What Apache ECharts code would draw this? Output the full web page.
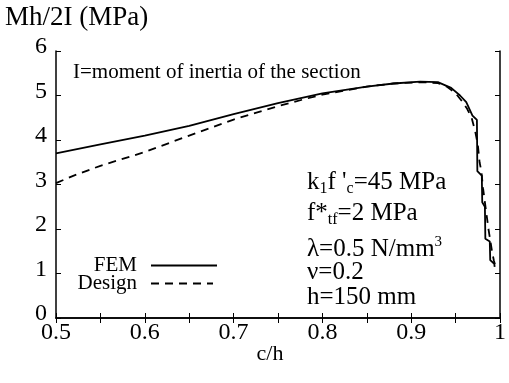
<!DOCTYPE html>
<html>
<head>
<meta charset="utf-8">
<script src="https://cdn.jsdelivr.net/npm/echarts@6/dist/echarts.min.js"></script>
<style>
  html, body { margin: 0; padding: 0; background: #fff; }
  #chart { width: 509px; height: 383px; }
</style>
</head>
<body>
<div id="chart"></div>
<script>
// Moment ratio Mh/2I versus relative crack depth c/h
const femC = [0.5, 0.55, 0.6, 0.65, 0.7, 0.75, 0.8, 0.85, 0.88, 0.91, 0.93, 0.945, 0.955, 0.962, 0.969, 0.974, 0.9745, 0.9795, 0.98, 0.983, 0.9835, 0.9885, 0.989, 0.9935, 0.994];
const femM = [3.70, 3.90, 4.10, 4.32, 4.58, 4.83, 5.05, 5.20, 5.27, 5.31, 5.30, 5.17, 5.00, 4.85, 4.55, 4.45, 3.30, 3.20, 2.60, 2.50, 1.78, 1.72, 1.30, 1.22, 1.15];

const designC = [0.5, 0.52, 0.55, 0.6, 0.65, 0.7, 0.75, 0.78, 0.8, 0.85, 0.88, 0.91, 0.93, 0.94, 0.95, 0.958, 0.963, 0.968, 0.972, 0.975, 0.977, 0.979, 0.981, 0.983, 0.985, 0.987, 0.989, 0.991, 0.993, 0.995];
const designM = [3.03, 3.20, 3.42, 3.73, 4.10, 4.46, 4.76, 4.92, 5.02, 5.20, 5.27, 5.30, 5.28, 5.20, 5.05, 4.85, 4.70, 4.50, 4.20, 3.90, 3.50, 3.30, 2.90, 2.60, 2.30, 2.00, 1.75, 1.50, 1.30, 1.15];

const xTicks = { min: 0.5, max: 1, step: 0.05 };
const yTicks = { min: 0, max: 6, step: 1 };

// Material and geometry parameters listed inside the plot (rich-text lines)
const paramLines = [
  '{m|k}{s|1}{m|f \'}{s|c}{m|=45 MPa}',
  '{m|f*}{s|tf}{m|=2 MPa}',
  '{m|λ=0.5 N/mm}{u|3}',
  '{m|ν=0.2}',
  '{m|h=150 mm}'
];

const serif = '"Liberation Serif", "DejaVu Serif", serif';

function pairs(xs, ys) { return xs.map((x, i) => [x, ys[i]]); }

function xLabel(v) {
  const t = v * 10;
  if (Math.abs(t - Math.round(t)) > 1e-6) return '';
  return Math.abs(v - 1) < 1e-9 ? '1' : v.toFixed(1);
}

const axisLine = { show: true, lineStyle: { color: '#000', width: 1.5 } };
const tickIn = { show: true, inside: true, length: 5, lineStyle: { color: '#000', width: 1 } };

const chart = echarts.init(document.getElementById('chart'), null, { renderer: 'canvas' });

const legendBase = {
  orient: 'vertical', align: 'right', itemHeight: 10, itemGap: 0, padding: 0,
  itemStyle: { opacity: 0 },
  textStyle: { fontFamily: serif, fontSize: 21, color: '#000', padding: [0, 9, 0, 0] }
};

const richStyles = {
  m: { fontFamily: serif, fontSize: 25, lineHeight: 29, verticalAlign: 'middle', fill: '#000' },
  s: { fontFamily: serif, fontSize: 16, lineHeight: 14, verticalAlign: 'bottom', fill: '#000' },
  u: { fontFamily: serif, fontSize: 15, lineHeight: 16, verticalAlign: 'top', fill: '#000' }
};
const paramTops = [170, 201, 235, 260, 285];

chart.setOption({
  backgroundColor: '#fff',
  animation: false,
  grid: { left: 56, right: 8, top: 51, bottom: 65, containLabel: false },
  xAxis: [
    {
      type: 'value', min: xTicks.min, max: xTicks.max, interval: xTicks.step,
      position: 'bottom',
      name: 'c/h', nameLocation: 'middle', nameGap: 25, nameMoveOverlap: false,
      nameTextStyle: { fontFamily: serif, fontSize: 22, color: '#000', padding: [0, 16, 0, 0] },
      axisLine: axisLine, axisTick: tickIn, splitLine: { show: false },
      axisLabel: { formatter: xLabel, fontFamily: serif, fontSize: 24, color: '#000', margin: 3, showMinLabel: true, showMaxLabel: true }
    },
    {
      type: 'value', min: xTicks.min, max: xTicks.max, interval: xTicks.step,
      position: 'top',
      axisLine: axisLine, axisTick: tickIn, splitLine: { show: false },
      axisLabel: { show: false }
    }
  ],
  yAxis: [
    {
      type: 'value', min: yTicks.min, max: yTicks.max, interval: yTicks.step,
      position: 'left',
      axisLine: axisLine, axisTick: tickIn, splitLine: { show: false },
      axisLabel: { fontFamily: serif, fontSize: 24, color: '#000', margin: 9, verticalAlign: 'bottom', lineHeight: 8 }
    },
    {
      type: 'value', min: yTicks.min, max: yTicks.max, interval: yTicks.step,
      position: 'right',
      axisLine: axisLine, axisTick: tickIn, splitLine: { show: false },
      axisLabel: { show: false }
    }
  ],
  legend: [
    Object.assign({ data: ['FEM'], right: 291, top: 255, itemWidth: 66 }, legendBase),
    Object.assign({ data: ['Design'], right: 295, top: 273, itemWidth: 62 }, legendBase)
  ],
  series: [
    {
      name: 'FEM', type: 'line', data: pairs(femC, femM),
      showSymbol: false, symbol: 'none', smooth: false,
      lineStyle: { color: '#000', width: 1.8, type: 'solid' },
      itemStyle: { color: '#000' }
    },
    {
      name: 'Design', type: 'line', data: pairs(designC, designM),
      showSymbol: false, symbol: 'none', smooth: false,
      lineStyle: { color: '#000', width: 1.8, type: [8, 6] },
      itemStyle: { color: '#000' }
    }
  ],
  graphic: [
    {
      type: 'text', left: 5, top: 4,
      style: { text: 'Mh/2I (MPa)', font: '27px ' + serif, fill: '#000' }
    },
    {
      type: 'text', left: 73, top: 62,
      style: { text: 'I=moment of inertia of the section', font: '21px ' + serif, fill: '#000' }
    }
  ].concat(paramLines.map((line, i) => ({
    type: 'text', left: 307, top: paramTops[i],
    style: { text: line, fill: '#000', rich: richStyles }
  })))
});
</script>
</body>
</html>
